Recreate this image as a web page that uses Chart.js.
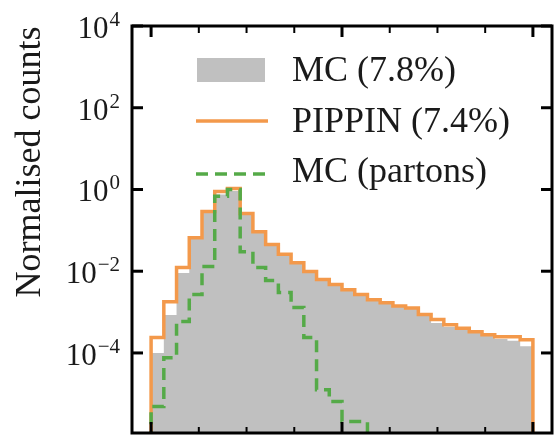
<!DOCTYPE html>
<html>
<head>
<meta charset="utf-8">
<script src="https://cdn.jsdelivr.net/npm/chart.js@4"></script>
<style>
  html, body { margin: 0; padding: 0; background: #fff; }
  #wrap { width: 558px; height: 436px; }
</style>
</head>
<body>
<div id="wrap"><canvas id="chart"></canvas></div>
<script>
// 30 equal bins over [0, 1]
const binLo = 0;
const binHi = 1;
const nBins = 30;

const mcValues = [
  1.0e-4, 8.5e-4, 9.0e-3, 6.2e-2, 0.27, 0.75, 0.92, 0.25, 0.09, 0.043,
  0.025, 0.0155, 9.5e-3, 6.1e-3, 4.6e-3, 3.4e-3, 2.6e-3, 1.95e-3, 1.65e-3, 1.35e-3,
  1.2e-3, 8.5e-4, 5.4e-4, 4.3e-4, 3.9e-4, 3.2e-4, 2.7e-4, 2.2e-4, 2.0e-4, 1.45e-4
];
const pippinValues = [
  2.4e-4, 1.8e-3, 1.23e-2, 6.6e-2, 0.29, 0.89, 1.05, 0.26, 0.093, 0.045,
  0.026, 0.016, 9.8e-3, 6.3e-3, 4.7e-3, 3.5e-3, 2.7e-3, 2.0e-3, 1.7e-3, 1.4e-3,
  1.25e-3, 8.7e-4, 6.6e-4, 4.9e-4, 4.0e-4, 3.3e-4, 2.8e-4, 2.5e-4, 2.5e-4, 2.1e-4
];
const partonValues = [
  4.9e-6, 7.6e-5, 5.9e-4, 2.7e-3, 1.3e-2, 0.68, 1.0, 0.030, 0.0123, 5.9e-3,
  3.0e-3, 1.3e-3, 2.4e-4, 1.26e-5, 6.5e-6, 2.1e-6, 2.1e-6, null, null, null,
  null, null, null, null, null, null, null, null, null, null
];

const legendLabels = ['MC (7.8%)', 'PIPPIN (7.4%)', 'MC (partons)'];
const yTitle = 'Normalised counts';
const yTickValues = [1e-4, 1e-2, 1, 1e2, 1e4];
const yTickExps = ['\u22124', '\u22122', '0', '2', '4'];
const xMajorTicks = [0, 0.5, 1];
const xMinorTicks = [0.125, 0.25, 0.375, 0.625, 0.75, 0.875];

const greyCol = '#c0c0c0';
const orangeCol = '#f3994b';
const greenCol = '#55aa48';
const FLOOR = 1e-9;
const serif = '"Liberation Serif", "DejaVu Serif", serif';

// histogram outline as step points (value held until next edge)
function stepPoints(vals) {
  const w = (binHi - binLo) / nBins;
  const pts = [];
  let last = null;
  vals.forEach((v, i) => {
    const x = binLo + i * w;
    if (v == null) {
      if (last != null) pts.push({x: x, y: FLOOR});
      last = null;
      return;
    }
    if (last == null) pts.push({x: x, y: FLOOR});
    pts.push({x: x, y: v});
    last = v;
  });
  if (last != null) {
    pts.push({x: binHi, y: last});
    pts.push({x: binHi, y: FLOOR});
  }
  return pts;
}

const decor = {
  id: 'decor',
  afterDraw(chart) {
    const ctx = chart.ctx;
    const a = chart.chartArea;
    const xs = chart.scales.x, ys = chart.scales.y;
    ctx.save();

    // frame
    ctx.strokeStyle = '#000';
    ctx.lineWidth = 3;
    ctx.strokeRect(a.left, a.top, a.right - a.left, a.bottom - a.top);

    // inward ticks
    const tick = (x1, y1, x2, y2, lw) => {
      ctx.lineWidth = lw;
      ctx.beginPath(); ctx.moveTo(x1, y1); ctx.lineTo(x2, y2); ctx.stroke();
    };
    xMajorTicks.forEach(v => {
      const px = xs.getPixelForValue(v);
      tick(px, a.bottom, px, a.bottom - 11, 3);
      tick(px, a.top, px, a.top + 11, 3);
    });
    xMinorTicks.forEach(v => {
      const px = xs.getPixelForValue(v);
      tick(px, a.bottom, px, a.bottom - 6, 2);
      tick(px, a.top, px, a.top + 7, 2);
    });
    yTickValues.forEach(v => {
      const py = ys.getPixelForValue(v);
      tick(a.left, py, a.left + 11, py, 3);
      tick(a.right, py, a.right - 11, py, 3);
    });

    // y tick labels 10^n
    ctx.fillStyle = '#1a1a1a';
    ctx.textBaseline = 'alphabetic';
    ctx.textAlign = 'right';
    yTickValues.forEach((v, i) => {
      const py = ys.getPixelForValue(v);
      const right = a.left - 12;
      ctx.font = '21px ' + serif;
      ctx.fillText(yTickExps[i], right, py);
      const ew = ctx.measureText(yTickExps[i]).width;
      ctx.font = '31px ' + serif;
      ctx.fillText('10', right - ew - 1, py + 12);
    });

    // y axis title
    ctx.save();
    ctx.translate(40, 162);
    ctx.rotate(-Math.PI / 2);
    ctx.textAlign = 'center';
    ctx.font = '36px ' + serif;
    ctx.fillText(yTitle, 0, 0);
    ctx.restore();

    // legend
    const lx = a.left + 64, tx = a.left + 160;
    ctx.fillStyle = greyCol;
    ctx.fillRect(lx + 1, 58, 68, 24);
    ctx.strokeStyle = orangeCol;
    ctx.lineWidth = 3.5;
    ctx.beginPath(); ctx.moveTo(lx, 121); ctx.lineTo(lx + 72, 121); ctx.stroke();
    ctx.strokeStyle = greenCol;
    ctx.setLineDash([12, 7]);
    ctx.beginPath(); ctx.moveTo(lx, 174); ctx.lineTo(lx + 72, 174); ctx.stroke();
    ctx.setLineDash([]);
    ctx.fillStyle = '#1a1a1a';
    ctx.textAlign = 'left';
    ctx.font = '36px ' + serif;
    ctx.fillText(legendLabels[0], tx, 81);
    ctx.fillText(legendLabels[1], tx, 132);
    ctx.fillText(legendLabels[2], tx, 182);

    ctx.restore();
  }
};

new Chart(document.getElementById('chart'), {
  type: 'line',
  data: {
    datasets: [
      {
        label: legendLabels[0],
        data: stepPoints(mcValues),
        stepped: 'before',
        borderWidth: 0,
        borderColor: 'rgba(0,0,0,0)',
        backgroundColor: greyCol,
        fill: 'start',
        pointRadius: 0,
        order: 3
      },
      {
        label: legendLabels[1],
        data: stepPoints(pippinValues),
        stepped: 'before',
        borderWidth: 3.5,
        borderColor: orangeCol,
        fill: false,
        pointRadius: 0,
        order: 2
      },
      {
        label: legendLabels[2],
        data: stepPoints(partonValues),
        stepped: 'before',
        borderWidth: 3.5,
        borderColor: greenCol,
        borderDash: [12, 7],
        fill: false,
        pointRadius: 0,
        order: 1
      }
    ]
  },
  options: {
    responsive: true,
    maintainAspectRatio: false,
    devicePixelRatio: 1,
    animation: false,
    layout: { padding: { left: 132, right: 6, top: 26, bottom: 3 } },
    plugins: {
      legend: { display: false },
      tooltip: { enabled: false }
    },
    scales: {
      x: { type: 'linear', min: -0.05, max: 1.05, display: false },
      y: { type: 'logarithmic', min: 1.1e-6, max: 1e4, display: false }
    }
  },
  plugins: [decor]
});
</script>
</body>
</html>
